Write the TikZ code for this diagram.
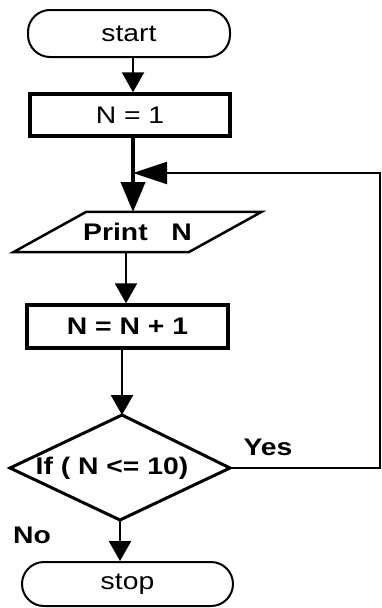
\documentclass[tikz,border=0pt]{standalone}
\usepackage{fontspec}
\setmainfont{Liberation Sans}[FakeStretch=1.18]
\usetikzlibrary{arrows.meta,calc}
\tikzset{
  term/.style={draw, line width=2pt, rounded corners=22pt, inner sep=0pt, font=\fontsize{24}{28}\selectfont},
  procbox/.style={draw, line width=3.5pt, inner sep=0pt, font=\fontsize{24}{28}\selectfont},
  txt/.style={inner sep=0pt, font=\fontsize{24}{28}\selectfont\bfseries},
  flow/.style={line width=2.5pt, -{Triangle[length=20pt,width=22pt]}},
  shapeline/.style={line width=3pt, line join=miter}
}
\begin{document}
\begin{tikzpicture}[x=1pt,y=-1pt]
\useasboundingbox (0,0) rectangle (382,608);
\fill[white] (0,0) rectangle (382,608);
% start
\node[term, minimum width=202pt, minimum height=47pt] (start) at (129,33.5) {start};
% N = 1
\node[procbox, minimum width=200pt, minimum height=42pt] (n1) at (130,115) {N = 1};
% Print N (parallelogram)
\node[txt, minimum width=175pt, minimum height=40pt] (print) at (137.5,232) {Print\ \ \ N};
\draw[line width=2.5pt, line join=miter]
  ($(print.north west)+(36.5,0)$) -- ($(print.north east)+(36.5,0)$)
  -- ($(print.south east)+(-36.5,0)$) -- ($(print.south west)+(-36.5,0)$) -- cycle;
% N = N + 1
\node[procbox, font=\fontsize{24}{28}\selectfont\bfseries, minimum width=201pt, minimum height=43pt] (inc) at (127.5,326.5) {N = N + 1};
% decision diamond
\coordinate (dtop) at (122,415);
\coordinate (dleft) at (10,468);
\coordinate (dright) at (230,468);
\coordinate (dbot) at (120,520);
\draw[shapeline] (dtop) -- (dright) -- (dbot) -- (dleft) -- cycle;
\node[txt] (cond) at (112,468) {If ( N <= 10)};
% stop
\node[term, minimum width=211pt, minimum height=44pt] (stop) at (127.5,584) {stop};
% connectors
\coordinate (ptop) at (133,212);
\coordinate (pbot) at (126,252);
\coordinate (join) at (133,173);
\coordinate (loopR) at (380,173);
\draw[flow] (start.south -| 133,0) -- (n1.north -| 133,0);
\draw[line width=4pt, -{Triangle[length=30pt,width=24pt]}] (n1.south -| 133,0) -- (ptop);
\draw[flow] (pbot) -- (inc.north -| 126,0);
\draw[flow] (inc.south -| 122,0) -- (dtop);
\draw[flow] (dbot) -- (stop.north -| 120,0);
\draw[line width=2pt, -{Triangle[length=34pt,width=22pt]}] (dright) -- (dright -| loopR) -- (loopR) -- (join);
% labels
\node[txt] (yes) at (268,447) {Yes};
\node[txt] (no) at (32,535) {No};
\end{tikzpicture}
\end{document}
